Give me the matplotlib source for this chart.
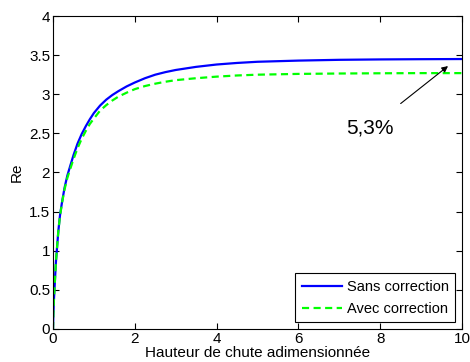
import matplotlib
matplotlib.use('Agg')
import matplotlib.pyplot as plt

plt.rcParams['font.family'] = ['Liberation Sans', 'DejaVu Sans']

# values
hauteur = [0, 0.01, 0.02, 0.04, 0.07, 0.1, 0.13, 0.17, 0.22, 0.28, 0.35, 0.43,
           0.5, 0.6, 0.7, 0.8, 0.9, 1.0, 1.15, 1.3, 1.45, 1.6, 1.8, 2.0, 2.25,
           2.5, 2.75, 3.0, 3.5, 4.0, 4.5, 5.0, 6.0, 7.0, 8.0, 9.0, 10.0]
re_sans = [0, 0.2, 0.35, 0.55, 0.85, 1.05, 1.25, 1.45, 1.62, 1.8, 1.96, 2.1,
           2.22, 2.37, 2.49, 2.59, 2.68, 2.76, 2.855, 2.93, 2.99, 3.04, 3.1, 3.15, 3.205,
           3.25, 3.283, 3.31, 3.35, 3.38, 3.40, 3.415, 3.43, 3.44, 3.445, 3.448, 3.45]
re_avec = [0, 0.2, 0.35, 0.55, 0.85, 1.05, 1.25, 1.44, 1.61, 1.78, 1.93, 2.06,
           2.17, 2.31, 2.43, 2.53, 2.62, 2.69, 2.79, 2.86, 2.92, 2.97, 3.02, 3.065, 3.105,
           3.135, 3.16, 3.18, 3.205, 3.225, 3.24, 3.25, 3.26, 3.265, 3.268, 3.27, 3.27]
x_ticks = [0, 2, 4, 6, 8, 10]
y_ticks = [0, 0.5, 1, 1.5, 2, 2.5, 3, 3.5, 4]
y_ticklabels = ['0', '0.5', '1', '1.5', '2', '2.5', '3', '3.5', '4']

fig = plt.figure(figsize=(4.7, 3.62), dpi=100)
ax = fig.add_axes([0.1128, 0.0912, 0.870, 0.8646])

ax.plot(hauteur, re_sans, color=(0, 0, 1), lw=1.6, label='Sans correction')
ax.plot(hauteur, re_avec, color=(0, 1, 0), lw=1.6, ls=(0, (3.2, 2.0)), label='Avec correction')

ax.annotate('5,3%', xy=(9.66, 3.36), xytext=(7.75, 2.57), fontsize=15,
            ha='center', va='center',
            arrowprops=dict(arrowstyle='-|>', color='k', lw=0.8, mutation_scale=9,
                            shrinkA=14, shrinkB=0))

ax.set_xlim(0, 10)
ax.set_ylim(0, 4)
ax.set_xticks(x_ticks)
ax.set_yticks(y_ticks)
ax.set_yticklabels(y_ticklabels)
ax.tick_params(direction='in', top=True, right=True, length=4, labelsize=11, pad=2)
ax.set_xlabel('Hauteur de chute adimensionnée', fontsize=11, labelpad=0)
ax.set_ylabel('Re', fontsize=11, labelpad=4)

leg = ax.legend(loc='lower right', fontsize=10.5, fancybox=False, framealpha=1,
                edgecolor='k', handlelength=2.8, borderpad=0.45, labelspacing=0.55,
                handletextpad=0.3, borderaxespad=0.45)
leg.get_frame().set_linewidth(0.8)

fig.savefig('out.png', dpi=100)
